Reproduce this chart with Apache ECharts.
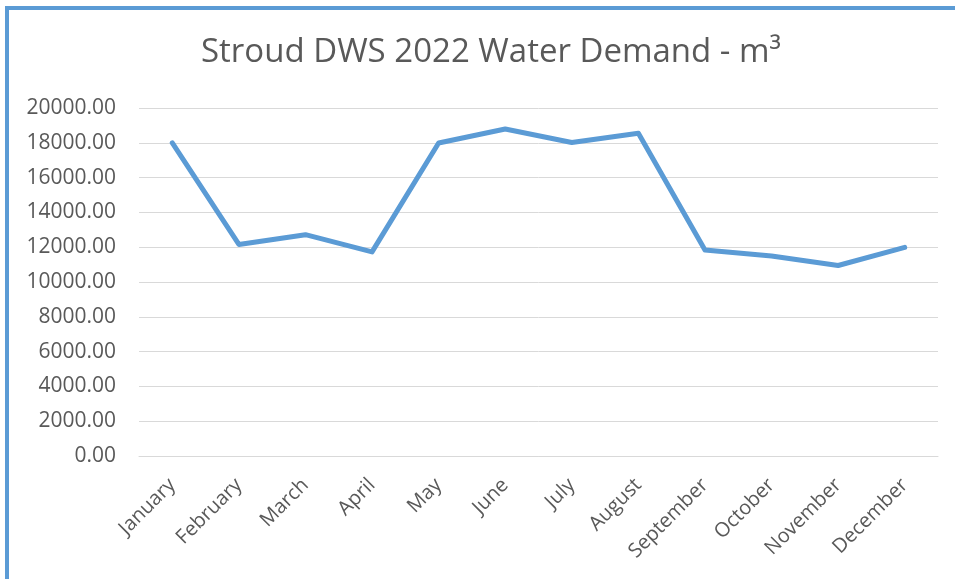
<!DOCTYPE html>
<html>
<head>
<meta charset="utf-8">
<script src="https://cdn.jsdelivr.net/npm/echarts@6/dist/echarts.min.js"></script>
<style>
html,body{margin:0;padding:0;background:#fff;}
#chart{width:955px;height:579px;}
</style>
</head>
<body>
<div id="chart"></div>
<script>
const categories = ['January','February','March','April','May','June','July','August','September','October','November','December'];
const demand = [18000, 12160, 12720, 11730, 17990, 18790, 18020, 18550, 11840, 11490, 10950, 11990];
const yTicks = {min: 0, max: 20000, interval: 2000};
const titleText = 'Stroud DWS 2022 Water Demand - m³';

const font = 'Open Sans';
const chart = echarts.init(document.getElementById('chart'), null, {renderer: 'canvas'});
chart.setOption({
  animation: false,
  backgroundColor: '#fff',
  title: {
    text: titleText,
    left: 196,
    top: 31,
    textStyle: {fontFamily: font, fontSize: 33, fontWeight: 'normal', color: '#595959'}
  },
  graphic: [{
    type: 'rect',
    shape: {x: 7, y: 8, width: 1200, height: 1200},
    style: {fill: 'none', stroke: '#5B9BD5', lineWidth: 4},
    silent: true
  }],
  grid: {left: 139, right: 17, top: 108, bottom: 123},
  xAxis: {
    type: 'category',
    data: categories,
    boundaryGap: true,
    axisTick: {show: false},
    axisLine: {lineStyle: {color: '#d9d9d9', width: 1}},
    axisLabel: {rotate: 45, margin: 26, fontFamily: font, fontSize: 20, color: '#595959'}
  },
  yAxis: {
    type: 'value',
    min: yTicks.min, max: yTicks.max, interval: yTicks.interval,
    axisLine: {show: false},
    axisTick: {show: false},
    splitLine: {lineStyle: {color: '#d9d9d9', width: 1}},
    axisLabel: {margin: 23, fontFamily: font, fontSize: 21, color: '#595959', formatter: v => v.toFixed(2)}
  },
  series: [{
    type: 'line',
    data: demand,
    symbol: 'none',
    lineStyle: {color: '#5B9BD5', width: 5, cap: 'round', join: 'round'}
  }]
});
</script>
</body>
</html>
